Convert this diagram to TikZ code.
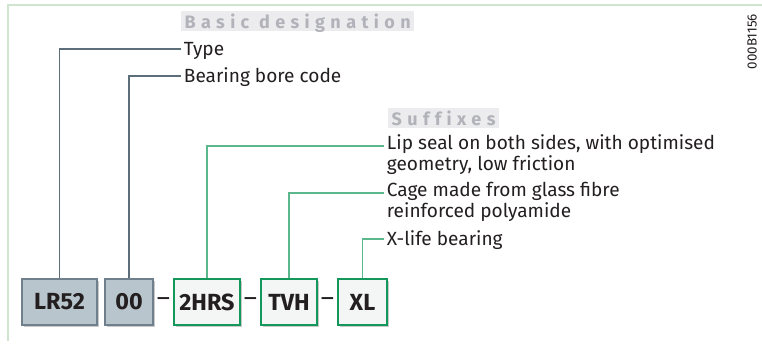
\documentclass[tikz,border=0pt]{standalone}
\usepackage{fontspec}
\setmainfont{Fira Sans}
\newfontfamily\headfont[LetterSpace=30, Ligatures=CommonOff]{Fira Sans}
\usetikzlibrary{shadows}

\definecolor{framegreen}{HTML}{CFE5CF}
\definecolor{basefill}{HTML}{B9C5CD}
\definecolor{basedraw}{HTML}{6F7F8B}
\definecolor{baseline}{HTML}{5C6E7A}
\definecolor{sfxfill}{HTML}{F4F5F5}
\definecolor{sfxdraw}{HTML}{14975A}
\definecolor{sfxline}{HTML}{5CB88C}
\definecolor{headbg}{HTML}{ECECEE}
\definecolor{headtext}{HTML}{B2B2BA}
\definecolor{ink}{HTML}{231F20}

\begin{document}
\begin{tikzpicture}[
			x=0.75pt, y=-0.75pt,
			every node/.style={text=ink},
			codebox/.style={minimum height=34.5pt, inner sep=0pt, line width=1.1pt,
				font=\fontsize{17.5}{17.5}\selectfont\bfseries,
				drop shadow={shadow xshift=1.2pt, shadow yshift=-1.2pt, opacity=0.35, fill=black!60}},
			basebox/.style={codebox, fill=basefill, draw=basedraw},
			sfxbox/.style={codebox, fill=sfxfill, draw=sfxdraw},
			header/.style={fill=headbg, text=headtext, anchor=west, inner xsep=2.5pt, inner ysep=0pt,
				minimum height=15pt, text depth=0pt, font=\fontsize{13.5}{13.5}\headfont\bfseries},
			desc/.style={anchor=base west, align=left, inner sep=2pt,
				font=\fontsize{14.3}{13.5}\selectfont},
			baselink/.style={draw=baseline, line width=0.9pt},
			sfxlink/.style={draw=sfxline, line width=0.9pt},
			sepdash/.style={font=\fontsize{19}{19}\selectfont},
			]

			\useasboundingbox (0,0) rectangle (762,343);

			% --- frame ---
			\draw[framegreen, line width=1.5pt] (762,5) -- (8,5) -- (8,341);

			% --- headers ---
			\node[header] (basichead) at (181,21) {Basic designation};
			\node[header] (sfxhead) at (388,118) {Suffixes};

			% --- designation boxes ---
			\node[basebox, minimum width=56.25pt] (lr) at (59.5,302) {LR52};
			\node[basebox, minimum width=36pt] (bore) at (129,302) {00};
			\node[sfxbox, minimum width=49.5pt] (hrs) at (207,302) {2HRS};
			\node[sfxbox, minimum width=42pt] (tvh) at (289,302) {TVH};
			\node[sfxbox, minimum width=36.75pt] (xl) at (362.5,302) {XL};

			\node[sepdash] (d1) at (163.5,302) {--};
			\node[sepdash] (d2) at (250.5,302) {--};
			\node[sepdash] (d3) at (327.5,302) {--};

			% --- labels (two-line ones sit on their last line) ---
			\node[desc] (type) at (181,55) {Type};
			\node[desc] (borecode) at (181,82) {Bearing bore code};
			\node[desc] (lip) at (384,170) {Lip seal on both sides, with optimised\\geometry, low friction};
			\node[desc] (cage) at (384,217) {Cage made from glass fibre\\reinforced polyamide};
			\node[desc] (xlife) at (384,245) {X-life bearing};

			% --- connectors ---
			\draw[baselink] (lr.north) |- ([yshift=4.5pt]type.base west);
			\draw[baselink] (bore.north) |- ([yshift=4.5pt]borecode.base west);
			\draw[sfxlink] (hrs.north) |- ([yshift=18pt]lip.base west);
			\draw[sfxlink] (tvh.north) |- ([yshift=18pt]cage.base west);
			\draw[sfxlink] (xl.north) |- ([yshift=4.5pt]xlife.base west);

			% --- drawing number ---
			\node[rotate=90, font=\fontsize{10}{10}\selectfont] (drawno) at (752,41.5) {000B1156};

		\end{tikzpicture}
\end{document}
